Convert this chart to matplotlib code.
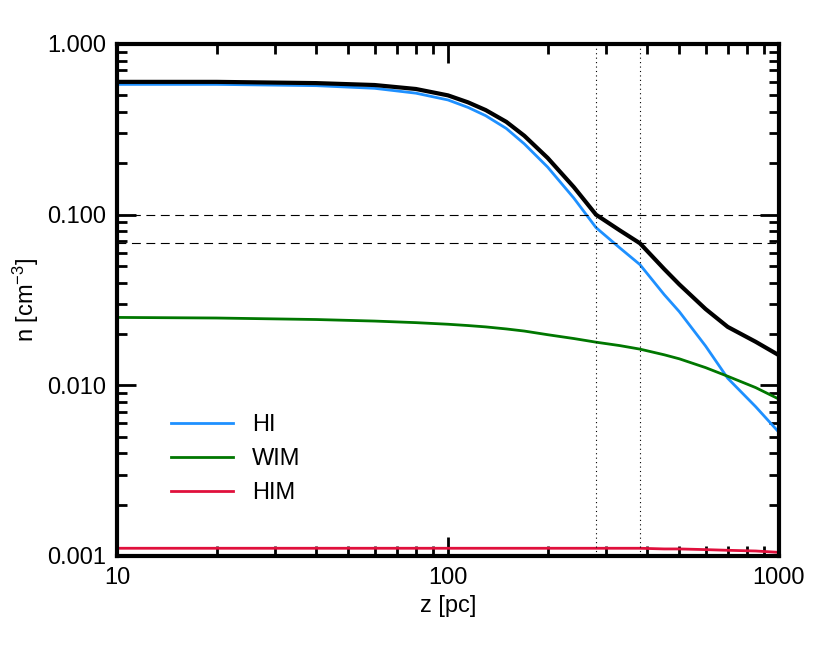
import matplotlib
matplotlib.use("Agg")
import matplotlib.pyplot as plt
from matplotlib.ticker import NullFormatter

plt.rcParams['font.family'] = 'Liberation Sans'
plt.rcParams['mathtext.default'] = 'regular'

z = [10, 20, 40, 60, 80, 100, 115, 130, 150, 170, 200, 240, 280, 330, 380, 450, 500, 600, 700, 850, 1000]
total = [0.60, 0.60, 0.59, 0.575, 0.545, 0.50, 0.455, 0.41, 0.35, 0.29, 0.215, 0.145, 0.100, 0.081, 0.068, 0.048, 0.039, 0.028, 0.022, 0.018, 0.015]
hi = [0.58, 0.58, 0.57, 0.55, 0.515, 0.47, 0.425, 0.38, 0.32, 0.26, 0.19, 0.125, 0.084, 0.064, 0.051, 0.034, 0.027, 0.017, 0.011, 0.0075, 0.0053]
wim = [0.025, 0.0248, 0.0243, 0.0238, 0.0233, 0.0228, 0.0224, 0.0220, 0.0214, 0.0208, 0.0198, 0.0188, 0.0179, 0.0171, 0.0163, 0.0151, 0.0143, 0.0127, 0.0113, 0.0097, 0.0083]
him = [0.00111] * 15 + [0.00110, 0.00110, 0.00109, 0.00108, 0.00107, 0.00105]
hlines = [0.100, 0.068]
vlines = [280, 380]
yticks = [0.001, 0.01, 0.1, 1.0]
ylabels = ['0.001', '0.010', '0.100', '1.000']
xticks = [10, 100, 1000]
xlabels = ['10', '100', '1000']

fig = plt.figure(figsize=(8.14, 6.47), dpi=100)
ax = fig.add_axes([117/814, 1-556/647, (779-117)/814, (556-44)/647])
ax.set_xscale('log'); ax.set_yscale('log')
ax.set_xlim(10, 1000); ax.set_ylim(0.001, 1.0)
ax.plot(z, hi, color='#1e90ff', lw=2, label='HI')
ax.plot(z, wim, color='#007700', lw=2, label='WIM')
ax.plot(z, him, color='#e0103c', lw=2, label='HIM')
ax.plot(z, total, color='black', lw=3)
for h in hlines:
    ax.axhline(h, color='black', lw=0.8, ls=(0, (8, 5)))
for v in vlines:
    ax.axvline(v, color='black', lw=0.8, ls=(0, (1, 3)))
ax.set_xticks(xticks); ax.set_xticklabels(xlabels)
ax.set_yticks(yticks); ax.set_yticklabels(ylabels)
ax.yaxis.set_minor_formatter(NullFormatter()); ax.xaxis.set_minor_formatter(NullFormatter())
ax.tick_params(which='both', direction='in', top=True, right=True, labelsize=17, width=2)
ax.tick_params(which='major', length=14, pad=8)
ax.tick_params(which='minor', length=7)
for s in ax.spines.values():
    s.set_linewidth(3)
ax.set_xlabel('z [pc]', fontsize=17)
ax.set_ylabel('n [cm$^{-3}$]', fontsize=17)
ax.legend(loc='lower left', bbox_to_anchor=(0.05, 0.06), frameon=False, fontsize=17, handlelength=2.6)
fig.savefig('out.png', dpi=100)
